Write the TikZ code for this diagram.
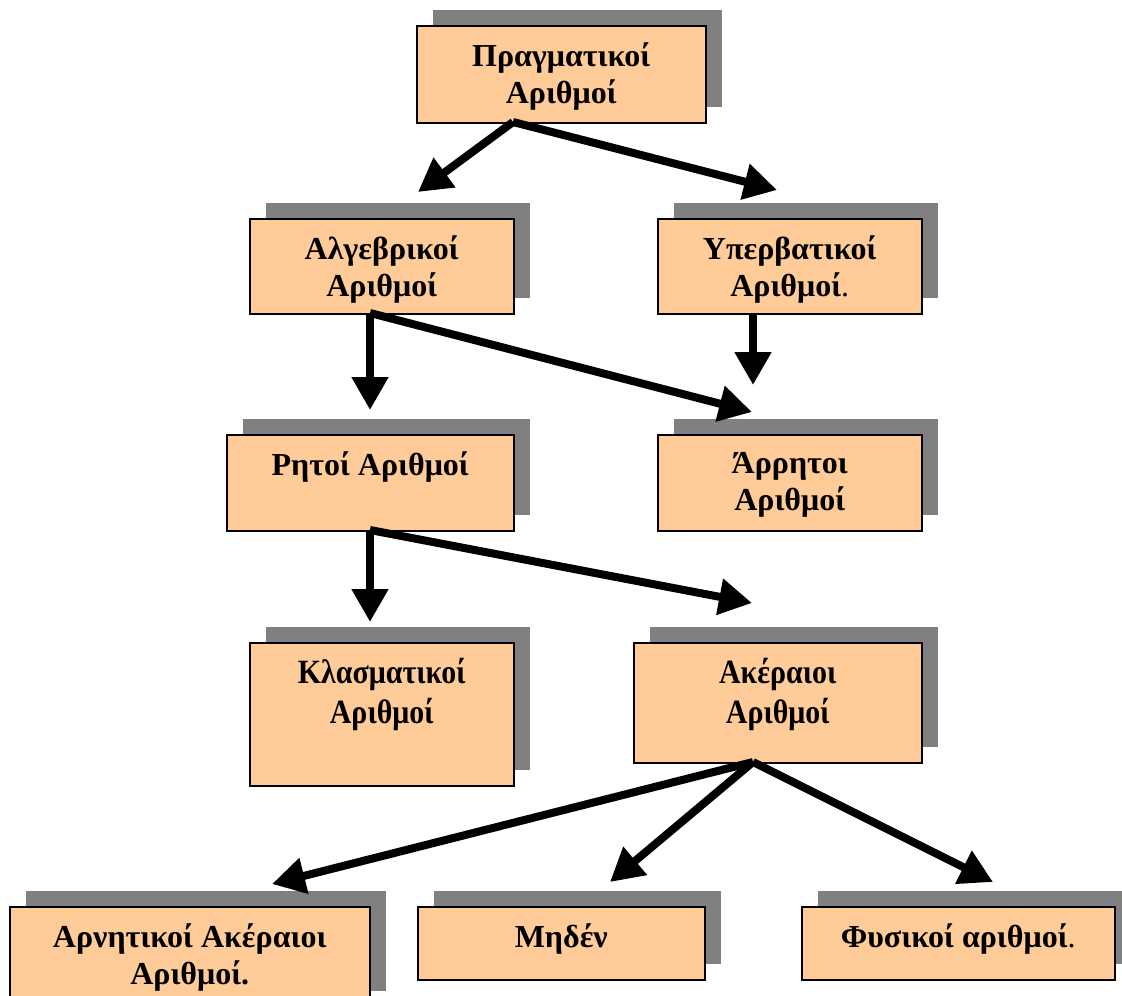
\documentclass[tikz,border=0pt]{standalone}
\usepackage{fontspec}
\setmainfont{Liberation Serif}
\newfontfamily\narrowserif{Liberation Serif}[FakeStretch=0.88]
\usetikzlibrary{arrows.meta,shadows}
\definecolor{peach}{HTML}{FFCC99}
\definecolor{shade}{HTML}{808080}
\tikzset{
  numbox/.style={draw=black,line width=1.5pt,fill=peach,anchor=north west,inner sep=0pt,
    drop shadow={opacity=1,fill=shade,shadow xshift=16pt,shadow yshift=16pt}},
  boxtext/.style={anchor=north,align=center,inner sep=0pt,font=\fontsize{32}{37}\selectfont\bfseries},
  narrowtext/.style={boxtext,font=\fontsize{34}{40}\selectfont\narrowserif\bfseries},
  bigarrow/.style={line width=8pt,-{Triangle[length=33pt,width=35pt]}}
}

\begin{document}
\begin{tikzpicture}[x=1pt,y=-1pt]
    \clip (0,0) rectangle (1122,996);
    % boxes =================================================
    \node[numbox,minimum width=289pt,minimum height=97pt]  (pr) at (416,25)  {};
    \node[numbox,minimum width=264pt,minimum height=95pt]  (al) at (249,218) {};
    \node[numbox,minimum width=264pt,minimum height=95pt]  (yp) at (657,218) {};
    \node[numbox,minimum width=287pt,minimum height=96pt]  (rt) at (226,434) {};
    \node[numbox,minimum width=264pt,minimum height=96pt]  (ar) at (657,434) {};
    \node[numbox,minimum width=264pt,minimum height=143pt] (kl) at (249,642) {};
    \node[numbox,minimum width=288pt,minimum height=120pt] (ak) at (633,642) {};
    \node[numbox,minimum width=360pt,minimum height=100pt] (an) at (9,906)   {};
    \node[numbox,minimum width=287pt,minimum height=73pt]  (mz) at (417,906) {};
    \node[numbox,minimum width=313pt,minimum height=73pt]  (fy) at (801,906) {};
    % texts =================================================
    \node[boxtext]    (pr-t) at ([yshift=-18pt]pr.north) {Πραγματικοί\\Αριθμοί};
    \node[boxtext]    (al-t) at ([yshift=-18pt]al.north) {Αλγεβρικοί\\Αριθμοί};
    \node[boxtext]    (yp-t) at ([yshift=-18pt]yp.north) {Υπερβατικοί\\Αριθμοί{\mdseries.}};
    \node[boxtext]    (rt-t) at ([yshift=-18pt]rt.north) {Ρητοί Αριθμοί};
    \node[boxtext]    (ar-t) at ([yshift=-18pt]ar.north) {Άρρητοι\\Αριθμοί};
    \node[narrowtext] (kl-t) at ([yshift=-16pt]kl.north) {Κλασματικοί\\Αριθμοί};
    \node[narrowtext] (ak-t) at ([yshift=-16pt]ak.north) {Ακέραιοι\\Αριθμοί};
    \node[boxtext]    (an-t) at ([yshift=-18pt]an.north) {Αρνητικοί Ακέραιοι\\Αριθμοί.};
    \node[boxtext]    (mz-t) at ([yshift=-18pt]mz.north) {Μηδέν};
    \node[boxtext]    (fy-t) at ([yshift=-18pt]fy.north) {Φυσικοί αριθμοί{\mdseries.}};
    % arrow ends ============================================
    \coordinate (pr-out) at (513,122);
    \coordinate (al-out) at (370,313);
    \coordinate (yp-out) at (753,313);
    \coordinate (rt-out) at (370,530);
    \coordinate (ak-out) at (753,762);
    \coordinate (al-in)  at (418,192);
    \coordinate (yp-in)  at (777,190);
    \coordinate (rt-in)  at (370,410);
    \coordinate (ar-in)  at (752,412);
    \coordinate (ar-in2) at (753,385);
    \coordinate (kl-in)  at (370,622);
    \coordinate (ak-in)  at (752,603);
    \coordinate (an-in)  at (272,884);
    \coordinate (mz-in)  at (610,882);
    \coordinate (fy-in)  at (993,882);
    % arrows ================================================
    \draw[bigarrow] (pr-out) -- (al-in);
    \draw[bigarrow] (pr-out) -- (yp-in);
    \draw[bigarrow] (al-out) -- (rt-in);
    \draw[bigarrow] (al-out) -- (ar-in);
    \draw[bigarrow] (yp-out) -- (ar-in2);
    \draw[bigarrow] (rt-out) -- (kl-in);
    \draw[bigarrow] (rt-out) -- (ak-in);
    \draw[bigarrow] (ak-out) -- (an-in);
    \draw[bigarrow] (ak-out) -- (mz-in);
    \draw[bigarrow] (ak-out) -- (fy-in);
\end{tikzpicture}
\end{document}
